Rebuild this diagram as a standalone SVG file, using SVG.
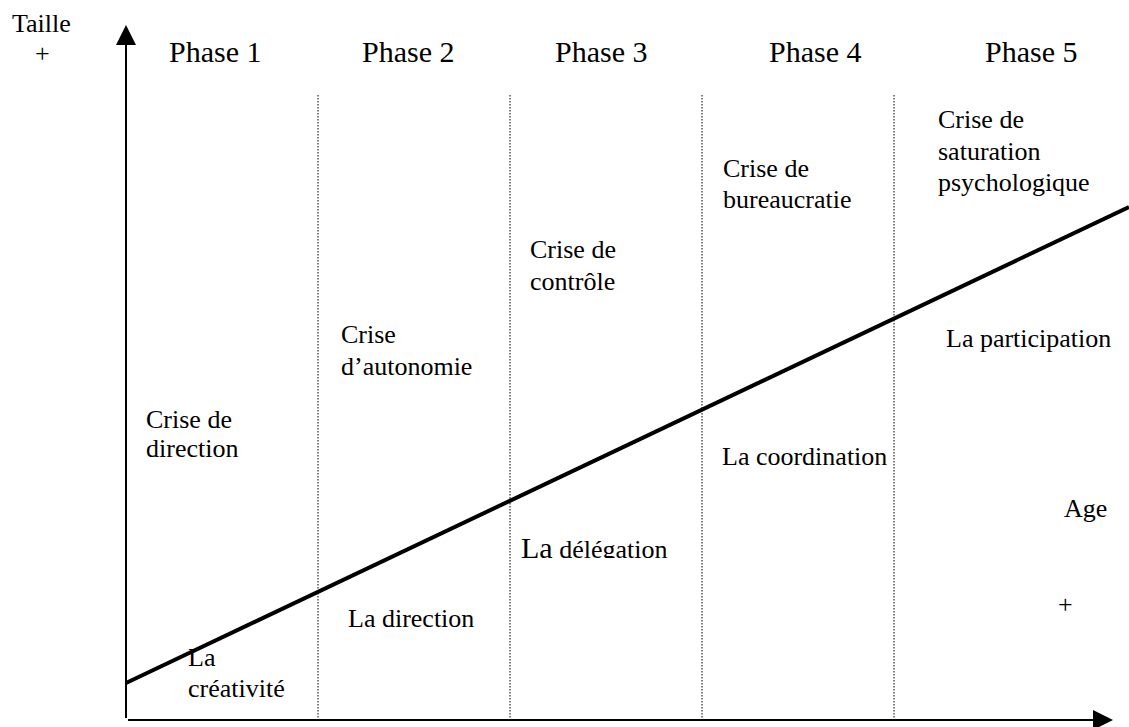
<svg xmlns="http://www.w3.org/2000/svg" width="1129" height="727" viewBox="0 0 1129 727">
<style>
text{font-family:"Liberation Serif","Times New Roman",serif;fill:#000;font-size:26px}
.ph{font-size:30px}
.div{stroke:#000;stroke-width:1;stroke-dasharray:1.5 1.5}
</style>
<defs>
<clipPath id="clipDel"><rect x="500" y="520" width="200" height="38"/></clipPath>
</defs>
<rect width="1129" height="727" fill="#fff"/>
<g id="axes">
<line x1="126" y1="718" x2="126" y2="40" stroke="#000" stroke-width="2"/>
<polygon points="126,25 116,45 136,45" fill="#000"/>
<line x1="128" y1="720" x2="1095" y2="720" stroke="#000" stroke-width="2"/>
<polygon points="1113,720 1093,710 1093,730" fill="#000"/>
<text x="12" y="32" font-size="25">Taille</text>
<text x="35" y="62" font-size="23">+</text>
</g>
<g id="dividers">
<line class="div" x1="318" y1="95" x2="318" y2="719"/>
<line class="div" x1="510" y1="95" x2="510" y2="719"/>
<line class="div" x1="702" y1="95" x2="702" y2="719"/>
<line class="div" x1="894" y1="95" x2="894" y2="719"/>
</g>
<g id="phases">
<text class="ph" x="169" y="62">Phase 1</text>
<text class="ph" x="362" y="62">Phase 2</text>
<text class="ph" x="555" y="62">Phase 3</text>
<text class="ph" x="769" y="62">Phase 4</text>
<text class="ph" x="985" y="62">Phase 5</text>
</g>
<g id="connectors">
<line x1="126" y1="683" x2="1129" y2="207" stroke="#000" stroke-width="4"/>
</g>
<g id="phase1">
<text x="146" y="428">Crise de</text>
<text x="146" y="457">direction</text>
<text x="188" y="666">La</text>
<text x="188" y="697">créativité</text>
</g>
<g id="phase2">
<text x="341" y="343">Crise</text>
<text x="341" y="375">d’autonomie</text>
<text x="348" y="627">La direction</text>
</g>
<g id="phase3">
<text x="530" y="258">Crise de</text>
<text x="530" y="290">contrôle</text>
<text x="521" y="558" clip-path="url(#clipDel)"><tspan font-size="30">La</tspan> délégation</text>
</g>
<g id="phase4">
<text x="723" y="177">Crise de</text>
<text x="723" y="208">bureaucratie</text>
<text x="722" y="465">La coordination</text>
</g>
<g id="phase5">
<text x="938" y="128">Crise de</text>
<text x="938" y="160">saturation</text>
<text x="938" y="191">psychologique</text>
<text x="946" y="347">La participation</text>
<text x="1064" y="517">Age</text>
<text x="1058" y="613">+</text>
</g>
</svg>
